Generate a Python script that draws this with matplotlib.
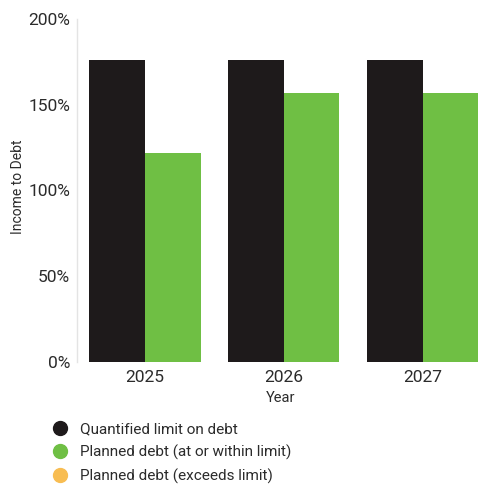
import matplotlib
matplotlib.use("Agg")
import matplotlib.pyplot as plt
from matplotlib.lines import Line2D
import numpy as np

years = ["2025", "2026", "2027"]
limit_values = [176, 176, 176]
planned_values = [122, 157, 157]
legend_labels = ["Quantified limit on debt",
                 "Planned debt (at or within limit)",
                 "Planned debt (exceeds limit)"]
y_ticks = [0, 50, 100, 150, 200]

c_limit = "#1e1a1b"
c_ok = "#6fbf44"
c_over = "#f8bd52"
text_c = "#2b2b2b"

plt.rcParams["font.family"] = ["Roboto", "DejaVu Sans"]

fig = plt.figure(figsize=(4.89, 4.88), dpi=100)
W, H = 489, 488
ax = fig.add_axes([77 / W, 1 - 362 / H, (485 - 77) / W, (362 - 19) / H])

x = np.arange(len(years))
bw = 0.4
ax.bar(x - bw / 2, limit_values, width=bw, color=c_limit)
ax.bar(x + bw / 2, planned_values, width=bw, color=c_ok)

ax.set_ylim(0, 200)
ax.set_xlim(-0.49, 2.45)
ax.set_yticks(y_ticks)
ax.set_yticklabels([f"{v}%" for v in y_ticks], fontsize=12.5, color=text_c)
ax.set_xticks(x)
ax.set_xticklabels(years, fontsize=12.5, color=text_c)
ax.tick_params(axis="y", length=0, pad=5)
ax.tick_params(axis="x", length=0, pad=6)

for s in ["top", "right", "bottom"]:
    ax.spines[s].set_visible(False)
ax.spines["left"].set_color("#e4e4e4")
ax.spines["left"].set_linewidth(1)

ax.set_ylabel("Income to Debt", fontsize=10, color=text_c)
ax.yaxis.set_label_coords(-0.127, 0.51)
ax.set_xlabel("Year", fontsize=10.5, color=text_c, labelpad=4)

handles = [Line2D([], [], marker="o", linestyle="", markersize=10,
                  markerfacecolor=c, markeredgecolor=c)
           for c in (c_limit, c_ok, c_over)]
fig.legend(handles, legend_labels, loc="upper left",
           bbox_to_anchor=(52.5 / W, 1 - 422 / H), frameon=False,
           fontsize=11, labelspacing=0.56, handletextpad=0.83,
           handlelength=1.0, borderaxespad=0, borderpad=0,
           labelcolor=text_c)

fig.savefig("out.png", dpi=100)
